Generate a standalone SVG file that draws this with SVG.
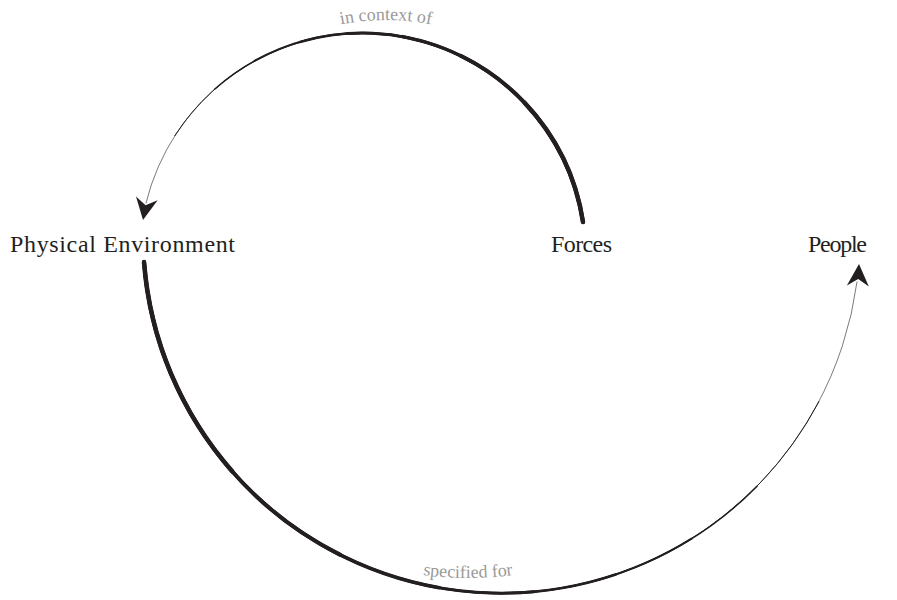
<svg xmlns="http://www.w3.org/2000/svg" xmlns:xlink="http://www.w3.org/1999/xlink" width="897" height="600" viewBox="0 0 897 600">
  <style>
    .node { font-family: "Liberation Serif", "Times New Roman", serif; font-size: 24px; fill: #231f20; }
    .lbl { font-family: "Liberation Serif", "Times New Roman", serif; font-size: 18px; fill: #9a9a9a; }
    .arc { fill: none; stroke: #231f20; stroke-linecap: round; }
    .w1 { stroke-width: 0.6; stroke-dasharray: 100 1000; }
    .w2 { stroke-width: 1.0; stroke-dasharray: 88 1000; }
    .w3 { stroke-width: 1.5; stroke-dasharray: 78 1000; }
    .w4 { stroke-width: 2.0; stroke-dasharray: 70 1000; }
    .w5 { stroke-width: 2.5; stroke-dasharray: 62 1000; }
    .w6 { stroke-width: 3.0; stroke-dasharray: 54 1000; }
    .w7 { stroke-width: 3.5; stroke-dasharray: 45 1000; }
    .w8 { stroke-width: 4.0; stroke-dasharray: 35 1000; }
    .w9 { stroke-width: 4.5; stroke-dasharray: 22 1000; }
    .head { fill: #231f20; }
  </style>
  <defs>
    <path id="topArc" d="M 583,222 A 223 223 0 0 0 146,203" pathLength="100"/>
    <path id="botArc" d="M 144,262 A 358.6 358.6 0 0 0 857,282" pathLength="100"/>
    <path id="topText" d="M 150,256 A 236 236 0 0 1 622,256"/>
    <path id="botText" d="M 124,234 A 344 344 0 0 0 812,234"/>
    <path id="arrow" d="M0,0 L-22,-11 L-15,0 L-22,11 Z"/>
  </defs>

  <g id="connectors">
    <g id="edge-forces-physical">
      <use xlink:href="#topArc" href="#topArc" class="arc w1"/>
      <use xlink:href="#topArc" href="#topArc" class="arc w2"/>
      <use xlink:href="#topArc" href="#topArc" class="arc w3"/>
      <use xlink:href="#topArc" href="#topArc" class="arc w4"/>
      <use xlink:href="#topArc" href="#topArc" class="arc w5"/>
      <use xlink:href="#topArc" href="#topArc" class="arc w6"/>
      <use xlink:href="#topArc" href="#topArc" class="arc w7"/>
      <use xlink:href="#topArc" href="#topArc" class="arc w8"/>
      <use xlink:href="#topArc" href="#topArc" class="arc w9"/>
      <use xlink:href="#arrow" href="#arrow" class="head" transform="translate(143,220) rotate(100)"/>
      <text class="lbl"><textPath xlink:href="#topText" href="#topText" startOffset="50%" text-anchor="middle">in context of</textPath></text>
    </g>
    <g id="edge-physical-people">
      <use xlink:href="#botArc" href="#botArc" class="arc w1"/>
      <use xlink:href="#botArc" href="#botArc" class="arc w2"/>
      <use xlink:href="#botArc" href="#botArc" class="arc w3"/>
      <use xlink:href="#botArc" href="#botArc" class="arc w4"/>
      <use xlink:href="#botArc" href="#botArc" class="arc w5"/>
      <use xlink:href="#botArc" href="#botArc" class="arc w6"/>
      <use xlink:href="#botArc" href="#botArc" class="arc w7"/>
      <use xlink:href="#botArc" href="#botArc" class="arc w8"/>
      <use xlink:href="#botArc" href="#botArc" class="arc w9"/>
      <use xlink:href="#arrow" href="#arrow" class="head" transform="translate(859,264) rotate(-87)"/>
      <text class="lbl"><textPath xlink:href="#botText" href="#botText" startOffset="50%" text-anchor="middle">specified  for</textPath></text>
    </g>
  </g>

  <g id="node-physical-environment">
    <text class="node" x="10" y="252" textLength="225">Physical Environment</text>
  </g>
  <g id="node-forces">
    <text class="node" x="551" y="252" textLength="61">Forces</text>
  </g>
  <g id="node-people">
    <text class="node" x="808" y="252" textLength="59">People</text>
  </g>
</svg>
